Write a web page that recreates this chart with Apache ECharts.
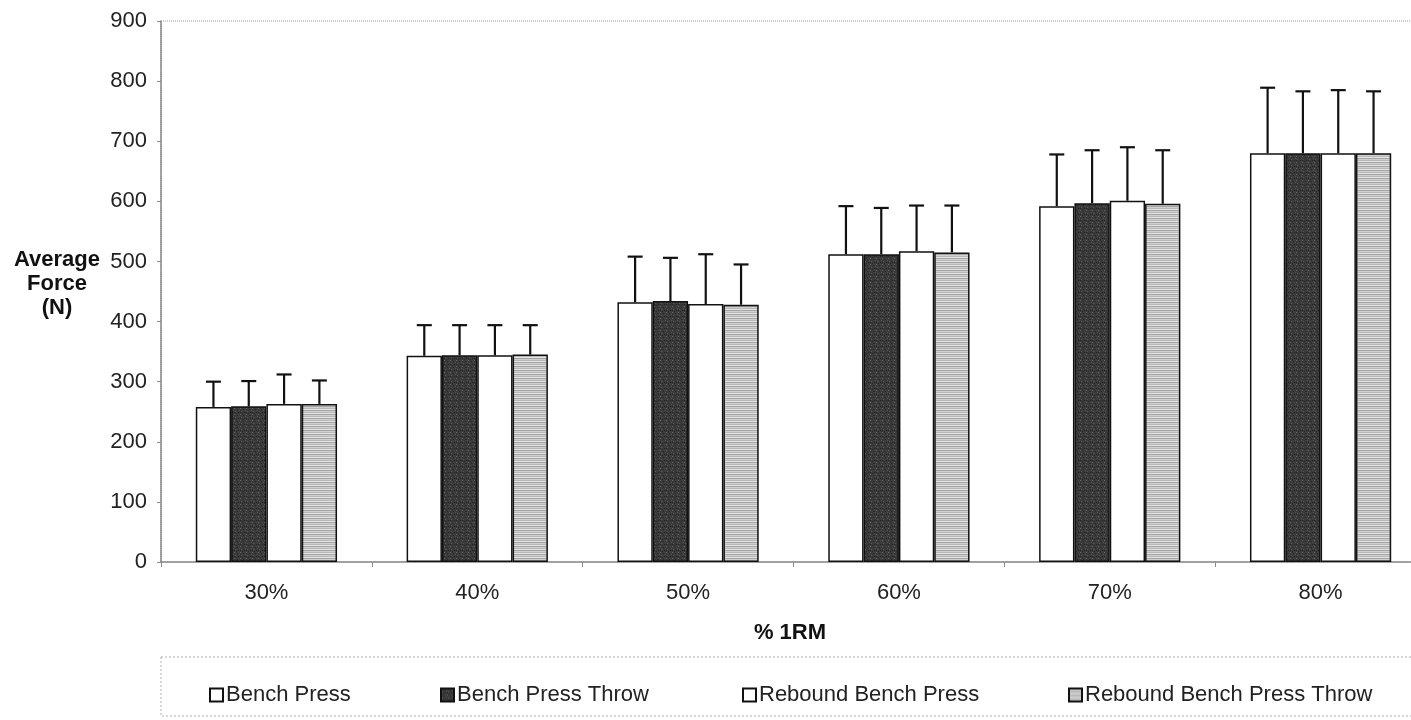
<!DOCTYPE html>
<html>
<head>
<meta charset="utf-8">
<script src="https://cdn.jsdelivr.net/npm/echarts@6/dist/echarts.min.js"></script>
<style>
html,body{margin:0;padding:0;background:#fff;}
#chart{width:1411px;height:720px;}
</style>
</head>
<body>
<div id="chart"></div>
<script>
// ---- data ----
const categories = ['30%', '40%', '50%', '60%', '70%', '80%'];
const seriesNames = ['Bench Press', 'Bench Press Throw', 'Rebound Bench Press', 'Rebound Bench Press Throw'];
const benchPress = [258, 343, 432, 512, 592, 680];
const benchPressThrow = [259, 344, 434, 512, 597, 680];
const reboundBenchPress = [263, 344, 429, 517, 601, 680];
const reboundBenchPressThrow = [263, 345, 428, 515, 596, 680];
// standard deviations (upper error bar length)
const sdBenchPress = [42, 51, 76, 80, 86, 109];
const sdBenchPressThrow = [42, 50, 72, 77, 88, 103];
const sdReboundBenchPress = [49, 50, 83, 76, 89, 105];
const sdReboundBenchPressThrow = [39, 49, 67, 78, 89, 103];
const yTicks = [0, 100, 200, 300, 400, 500, 600, 700, 800, 900];
const yTitle = 'Average\nForce\n(N)';
const xTitle = '% 1RM';

// ---- patterns ----
function makeDark() {
  const c = document.createElement('canvas');
  c.width = 6; c.height = 6;
  const g = c.getContext('2d');
  g.fillStyle = '#3a3a3a'; g.fillRect(0, 0, 6, 6);
  const pts = [[0,0,'#666'],[3,1,'#262626'],[1,3,'#585858'],[4,4,'#232323'],[5,2,'#505050'],[2,5,'#2c2c2c'],[4,0,'#484848'],[0,4,'#252525']];
  pts.forEach(p => { g.fillStyle = p[2]; g.fillRect(p[0], p[1], 1, 1); });
  return c;
}
function makeStripes() {
  const c = document.createElement('canvas');
  c.width = 4; c.height = 4;
  const g = c.getContext('2d');
  const rows = ['#b8b8b8', '#e4e4e4', '#a4a4a4', '#d0d0d0'];
  rows.forEach((col, i) => { g.fillStyle = col; g.fillRect(0, i, 4, 1); });
  return c;
}
const fills = [
  '#ffffff',
  { image: makeDark(), repeat: 'repeat' },
  '#ffffff',
  { image: makeStripes(), repeat: 'repeat' }
];
const values = [benchPress, benchPressThrow, reboundBenchPress, reboundBenchPressThrow];
const sds = [sdBenchPress, sdBenchPressThrow, sdReboundBenchPress, sdReboundBenchPressThrow];
const CAT_GAP = 0.33;
const FONT = '"Liberation Sans", Arial, sans-serif';

const barSeries = seriesNames.map((name, i) => ({
  name: name,
  type: 'bar',
  data: values[i],
  barGap: '0%',
  barCategoryGap: '33%',
  itemStyle: { color: fills[i], borderColor: '#111', borderWidth: 1.5 },
  emphasis: { disabled: true },
  z: 2
}));

const errSeries = seriesNames.map((name, i) => ({
  name: name + ' SD',
  type: 'custom',
  z: 3,
  silent: true,
  data: values[i].map((v, k) => [k, v, v + sds[i][k]]),
  renderItem: function (params, api) {
    const base = api.coord([api.value(0), api.value(1)]);
    const top = api.coord([api.value(0), api.value(2)]);
    const band = api.size([1, 0])[0];
    const groupW = band * (1 - CAT_GAP);
    const barW = groupW / 4;
    const x = base[0] - groupW / 2 + barW * (i + 0.5);
    const st = { stroke: '#111', lineWidth: 2.2 };
    return {
      type: 'group',
      children: [
        { type: 'line', shape: { x1: x, y1: base[1], x2: x, y2: top[1] }, style: st },
        { type: 'line', shape: { x1: x - 7.5, y1: top[1], x2: x + 7.5, y2: top[1] }, style: st }
      ]
    };
  }
}));

const legendLefts = [204, 435, 737, 1063];
const legends = seriesNames.map((n, i) => ({
  data: [n],
  left: legendLefts[i],
  top: 679,
  icon: 'rect',
  itemWidth: 13,
  itemHeight: 13,
  selectedMode: false,
  textStyle: { fontFamily: FONT, fontSize: 22, color: '#222', padding: [0, 0, 0, -2] }
}));

const chart = echarts.init(document.getElementById('chart'), null, { renderer: 'canvas' });
chart.setOption({
  animation: false,
  backgroundColor: '#fff',
  grid: {
    left: 161, top: 21, width: 1265, height: 541,
    outerBoundsMode: 'none',
    containLabel: false,
    show: true, borderColor: '#9a9a9a', borderWidth: 1, borderType: 'dotted'
  },
  legend: legends,
  xAxis: {
    type: 'category',
    data: categories,
    axisLine: { lineStyle: { color: '#8a8a8a', width: 1.5 } },
    axisTick: { show: true, length: 5, lineStyle: { color: '#8a8a8a' } },
    axisLabel: { fontFamily: FONT, fontSize: 22, color: '#222', margin: 20 }
  },
  yAxis: {
    type: 'value',
    min: 0, max: 900, interval: 100,
    axisLine: { show: true, lineStyle: { color: '#8a8a8a', width: 1.5 } },
    axisTick: { show: true, length: 4, lineStyle: { color: '#8a8a8a' } },
    splitLine: { show: false },
    axisLabel: {
      fontFamily: FONT, fontSize: 22, color: '#222', margin: 14,
      formatter: v => (yTicks.indexOf(v) >= 0 ? String(v) : '')
    }
  },
  graphic: [
    {
      type: 'text',
      style: {
        x: 57, y: 248, text: yTitle, textAlign: 'center', textVerticalAlign: 'top',
        font: 'bold 22px ' + FONT, fill: '#111', lineHeight: 24
      }
    },
    {
      type: 'text',
      style: {
        x: 790, y: 633, text: xTitle, textAlign: 'center', textVerticalAlign: 'middle',
        font: 'bold 22px ' + FONT, fill: '#111'
      }
    },
    {
      type: 'rect', z: -1,
      shape: { x: 161, y: 657, width: 1270, height: 59 },
      style: { fill: 'none', stroke: '#b0b0b0', lineWidth: 1, lineDash: [2, 2] }
    }
  ],
  series: barSeries.concat(errSeries)
});
</script>
</body>
</html>
